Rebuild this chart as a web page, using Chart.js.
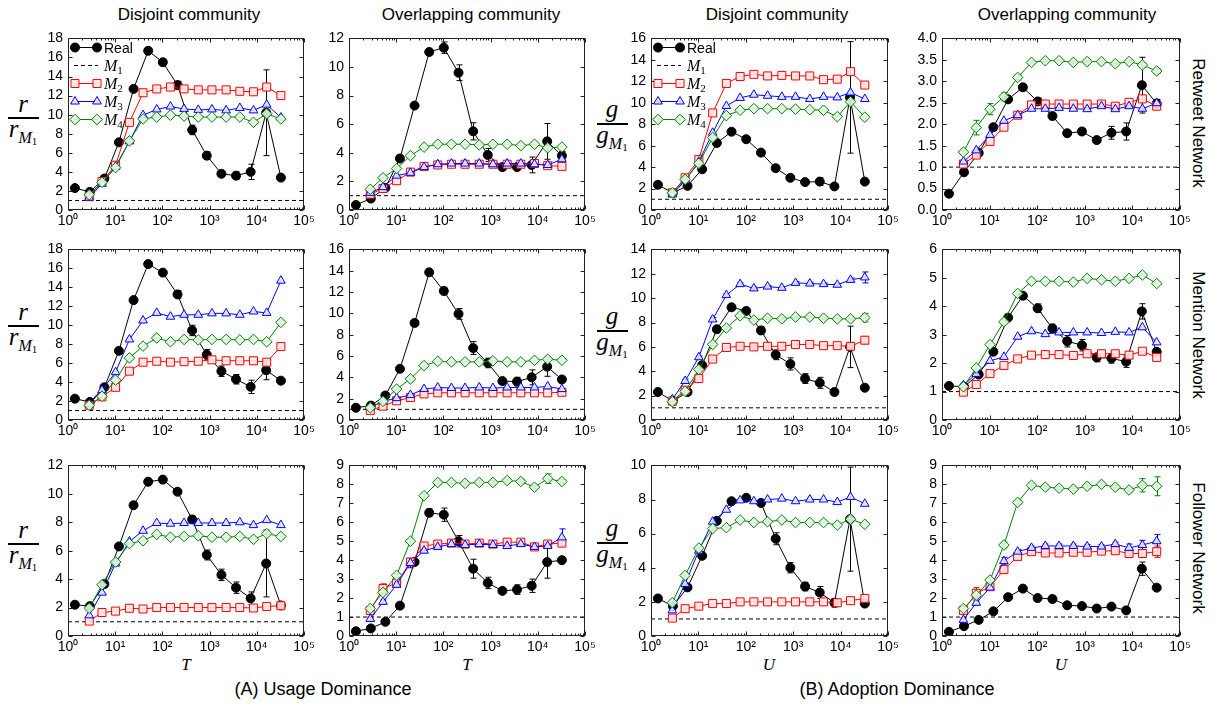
<!DOCTYPE html>
<html><head><meta charset="utf-8">
<script src="https://cdn.jsdelivr.net/npm/chart.js@4.4.0/dist/chart.umd.min.js"></script>
<style>
body{margin:0;background:#fff;}
#fig{position:relative;width:1215px;height:706px;overflow:hidden;background:#fff;font-family:'Liberation Sans',Arial,sans-serif;color:#000}
#fig div{position:absolute;white-space:nowrap}
</style></head>
<body><div id="fig"></div>
<script>
// ---------- shared x positions / ticks ----------
const realX  = [1.4, 2.9, 5.9, 12, 24.5, 50, 102, 209, 427, 871, 1780, 3630, 7410, 15800, 32400];
const modelX = [2.82, 5.25, 10.2, 20, 38.9, 75.9, 148, 288, 575, 1120, 2240, 4370, 8510, 16200, 32400];
const m1X = [1, 100000];
const m1Y = [1, 1];
const xTickVals = [1, 10, 100, 1000, 10000, 100000];
const xTickLabels = ['10\u2070','10\u00b9','10\u00b2','10\u00b3','10\u2074','10\u2075'];

// ---------- panel 1: Retweet / Usage / Disjoint ----------
const real_p1 = [2.3, 1.9, 3.3, 7.1, 12.7, 16.7, 15.5, 13.1, 8.4, 5.7, 3.8, 3.6, 4.0, 10.2, 3.4];
const realErr_p1 = [0.1,0.1,0.1,0.1,0.1,0.1,0.2,0.4,0.5,0.4,0.2,0.4,0.8,4.5,0.2];
const m2_p1 = [1.4, 3.0, 4.7, 9.2, 12.3, 12.7, 12.9, 12.7, 12.6, 12.6, 12.6, 12.45, 12.4, 12.9, 12.0];
const m3_p1 = [1.3, 2.75, 4.55, 7.2, 9.95, 10.55, 10.85, 10.6, 10.5, 10.55, 10.45, 10.7, 10.45, 11.05, 9.7];
const m4_p1 = [1.6, 2.9, 4.45, 7.25, 9.55, 9.75, 9.95, 9.85, 9.75, 9.75, 9.75, 9.75, 9.2, 10.1, 9.55];
// ---------- panel 2: Retweet / Usage / Overlapping ----------
const real_p2 = [0.35, 0.8, 1.55, 3.6, 7.3, 11.05, 11.35, 9.6, 5.5, 3.85, 3.0, 3.0, 3.15, 4.8, 3.8];
const realErr_p2 = [0.05,0.1,0.1,0.1,0.1,0.2,0.4,0.55,0.6,0.45,0.1,0.15,0.55,1.25,0.3];
const m2_p2 = [1.1, 1.5, 2.05, 2.65, 3.05, 3.15, 3.2, 3.2, 3.2, 3.2, 3.2, 3.2, 3.25, 3.1, 3.05];
const m3_p2 = [1.2, 1.6, 2.4, 2.6, 3.0, 3.2, 3.25, 3.25, 3.25, 3.2, 3.25, 3.25, 3.2, 3.15, 3.55];
const m4_p2 = [1.45, 2.25, 2.9, 3.8, 4.4, 4.6, 4.6, 4.6, 4.55, 4.6, 4.6, 4.5, 4.6, 4.35, 4.4];
// ---------- panel 3: Retweet / Adoption / Disjoint ----------
const real_p3 = [2.35, 1.6, 2.25, 3.8, 6.25, 7.3, 6.6, 5.35, 3.9, 3.0, 2.6, 2.65, 2.2, 10.5, 2.65];
const realErr_p3 = [0.1,0.1,0.1,0.15,0.15,0.1,0.1,0.1,0.1,0.1,0.1,0.35,0.15,5.2,0.1];
const m2_p3 = [1.6, 3.0, 4.7, 9.05, 11.8, 12.45, 12.65, 12.5, 12.55, 12.5, 12.5, 12.15, 12.2, 12.9, 11.65];
const m3_p3 = [1.45, 2.75, 4.5, 7.2, 9.7, 10.45, 10.75, 10.65, 10.55, 10.55, 10.35, 10.55, 10.5, 10.95, 10.35];
const m4_p3 = [1.6, 2.85, 4.35, 6.75, 8.8, 9.3, 9.45, 9.45, 9.45, 9.4, 9.35, 9.3, 8.7, 10.1, 8.65];
// ---------- panel 4: Retweet / Adoption / Overlapping ----------
const real_p4 = [0.38, 0.88, 1.33, 1.93, 2.58, 2.86, 2.53, 2.19, 1.79, 1.83, 1.63, 1.8, 1.83, 2.91, 2.48];
const realErr_p4 = [0.02,0.03,0.04,0.05,0.05,0.06,0.08,0.05,0.04,0.06,0.06,0.15,0.2,0.65,0.1];
const m2_p4 = [1.07, 1.28, 1.6, 1.93, 2.21, 2.45, 2.47, 2.47, 2.47, 2.47, 2.47, 2.42, 2.51, 2.59, 2.42];
const m3_p4 = [1.13, 1.39, 1.75, 2.08, 2.21, 2.36, 2.36, 2.38, 2.36, 2.35, 2.42, 2.35, 2.42, 2.36, 2.49];
const m4_p4 = [1.35, 1.92, 2.35, 2.64, 3.09, 3.44, 3.48, 3.48, 3.44, 3.46, 3.46, 3.41, 3.46, 3.38, 3.24];
const m4Err_p4 = [0.04, 0.17, 0.13, 0.1, 0.06, 0.03, 0.03, 0.03, 0.03, 0.03, 0.03, 0.03, 0.03, 0.05, 0.06];
// ---------- panel 5: Mention / Usage / Disjoint ----------
const real_p5 = [2.25, 1.9, 3.45, 7.3, 12.65, 16.45, 15.55, 13.25, 9.45, 6.9, 5.15, 4.3, 3.5, 5.25, 4.15];
const realErr_p5 = [0.1,0.1,0.1,0.1,0.1,0.1,0.2,0.4,0.55,0.55,0.55,0.5,0.7,1.0,0.15];
const m2_p5 = [1.55, 2.45, 3.45, 5.15, 6.1, 6.2, 6.1, 6.15, 6.2, 6.35, 6.25, 6.25, 6.25, 6.1, 7.75];
const m3_p5 = [1.65, 3.15, 5.05, 8.5, 10.5, 11.3, 10.9, 11.1, 11.1, 11.25, 11.25, 11.1, 11.45, 11.3, 14.7];
const m4_p5 = [1.55, 2.5, 4.2, 6.55, 7.8, 8.65, 8.25, 8.5, 8.45, 8.5, 8.5, 8.45, 8.5, 8.25, 10.3];
// ---------- panel 6: Mention / Usage / Overlapping ----------
const real_p6 = [1.15, 1.35, 2.3, 4.8, 9.1, 13.85, 12.1, 9.95, 6.75, 5.35, 3.65, 3.6, 4.0, 5.0, 3.8];
const realErr_p6 = [0.05,0.1,0.1,0.1,0.1,0.1,0.35,0.5,0.6,0.45,0.15,0.4,0.7,0.9,0.2];
const m2_p6 = [0.9, 1.3, 1.8, 2.1, 2.45, 2.55, 2.55, 2.55, 2.55, 2.55, 2.55, 2.55, 2.55, 2.55, 2.6];
const m3_p6 = [1.2, 1.75, 2.05, 2.35, 2.9, 3.05, 3.0, 3.0, 3.05, 3.0, 3.05, 3.05, 3.05, 3.15, 2.9];
const m4_p6 = [1.15, 1.75, 2.9, 3.85, 5.1, 5.5, 5.45, 5.45, 5.45, 5.55, 5.45, 5.45, 5.6, 5.7, 5.6];
// ---------- panel 7: Mention / Adoption / Disjoint ----------
const real_p7 = [2.3, 1.55, 2.3, 4.5, 7.45, 9.25, 8.95, 7.35, 5.35, 4.6, 3.4, 3.05, 2.3, 6.0, 2.65];
const realErr_p7 = [0.1,0.1,0.1,0.1,0.1,0.1,0.25,0.3,0.4,0.5,0.4,0.45,0.2,1.7,0.1];
const m2_p7 = [1.55, 2.45, 3.4, 5.0, 5.95, 6.05, 6.0, 6.05, 6.05, 6.2, 6.2, 6.1, 6.1, 6.05, 6.55];
const m3_p7 = [1.7, 3.2, 5.15, 8.25, 10.25, 11.15, 10.8, 10.95, 10.85, 11.25, 11.2, 11.15, 11.1, 11.5, 11.7];
const m4_p7 = [1.5, 2.35, 4.15, 6.2, 7.55, 8.55, 8.2, 8.35, 8.3, 8.45, 8.45, 8.35, 8.3, 8.3, 8.4];
const m2Err_p7 = [0.05,0.1,0.1,0.1,0.1,0.1,0.1,0.1,0.1,0.1,0.1,0.1,0.1,0.1,0.3];
const m3Err_p7 = [0.05,0.15,0.1,0.15,0.1,0.1,0.1,0.1,0.1,0.1,0.1,0.1,0.1,0.15,0.45];
const m4Err_p7 = [0.05,0.1,0.1,0.1,0.1,0.1,0.1,0.1,0.1,0.1,0.1,0.1,0.1,0.1,0.35];
// ---------- panel 8: Mention / Adoption / Overlapping ----------
const real_p8 = [1.2, 1.17, 1.6, 2.4, 3.6, 4.37, 3.93, 3.22, 2.77, 2.63, 2.2, 2.17, 2.05, 3.82, 2.4];
const realErr_p8 = [0.03,0.03,0.05,0.05,0.05,0.08,0.15,0.15,0.2,0.2,0.15,0.17,0.2,0.27,0.1];
const m2_p8 = [0.98, 1.25, 1.63, 1.92, 2.15, 2.28, 2.3, 2.3, 2.27, 2.33, 2.33, 2.33, 2.28, 2.42, 2.2];
const m3_p8 = [1.22, 1.62, 2.08, 2.22, 2.93, 3.12, 3.02, 3.08, 3.08, 3.08, 3.06, 3.1, 3.08, 3.26, 2.73];
const m4_p8 = [1.17, 1.83, 2.65, 3.45, 4.45, 4.88, 4.88, 4.88, 4.85, 4.98, 4.93, 4.88, 4.98, 5.1, 4.8];
// ---------- panel 9: Follower / Usage / Disjoint ----------
const real_p9 = [2.2, 2.1, 3.65, 6.3, 9.2, 10.85, 11.0, 10.15, 8.2, 5.7, 4.3, 3.4, 2.65, 5.1, 2.15];
const realErr_p9 = [0.05,0.05,0.1,0.1,0.1,0.1,0.1,0.15,0.25,0.35,0.4,0.4,0.45,2.35,0.1];
const m2_p9 = [1.05, 1.65, 1.75, 1.95, 1.9, 2.0, 2.0, 2.0, 2.0, 2.0, 2.0, 2.0, 1.97, 2.08, 2.13];
const m3_p9 = [1.45, 3.05, 5.1, 6.65, 7.4, 7.95, 7.9, 7.95, 7.95, 7.95, 7.95, 8.0, 7.8, 8.15, 7.8];
const m4_p9 = [1.95, 3.6, 5.2, 6.5, 6.7, 7.15, 6.95, 7.0, 7.05, 6.95, 6.95, 7.0, 6.8, 7.2, 7.0];
// ---------- panel 10: Follower / Usage / Overlapping ----------
const real_p10 = [0.25, 0.4, 0.75, 1.6, 3.9, 6.5, 6.4, 5.0, 3.55, 2.8, 2.38, 2.45, 2.65, 3.9, 4.0];
const realErr_p10 = [0.02,0.03,0.05,0.08,0.1,0.2,0.35,0.3,0.5,0.3,0.1,0.25,0.35,0.85,0.1];
const m2_p10 = [1.35, 2.5, 2.8, 3.9, 4.75, 4.85, 4.9, 4.85, 4.9, 4.85, 4.95, 4.95, 4.7, 4.85, 4.9];
const m3_p10 = [0.9, 1.8, 2.7, 3.85, 4.5, 4.7, 4.85, 4.8, 4.85, 4.8, 4.75, 4.85, 4.7, 4.75, 5.2];
const m4_p10 = [1.45, 2.3, 3.2, 5.0, 7.4, 8.1, 8.1, 8.05, 8.1, 8.1, 8.2, 8.15, 7.85, 8.3, 8.15];
const m2Err_p10 = [0.1,0.25,0.1,0.1,0.1,0.1,0.1,0.1,0.1,0.1,0.1,0.1,0.1,0.1,0.1];
const m3Err_p10 = [0.1,0.1,0.1,0.25,0.1,0.1,0.1,0.1,0.1,0.1,0.1,0.1,0.1,0.1,0.45];
const m4Err_p10 = [0.1,0.1,0.1,0.1,0.1,0.1,0.1,0.1,0.1,0.1,0.1,0.1,0.1,0.25,0.1];
// ---------- panel 11: Follower / Adoption / Disjoint ----------
const real_p11 = [2.2, 1.75, 2.85, 4.7, 6.75, 7.9, 8.1, 7.8, 5.7, 4.0, 2.9, 2.55, 1.95, 6.85, 1.9];
const realErr_p11 = [0.05,0.05,0.1,0.1,0.1,0.1,0.1,0.2,0.35,0.3,0.25,0.35,0.25,3.05,0.1];
const m2_p11 = [1.05, 1.6, 1.75, 1.9, 1.9, 2.0, 2.0, 2.0, 2.0, 2.0, 2.0, 2.0, 1.95, 2.07, 2.2];
const m3_p11 = [1.5, 3.05, 5.0, 6.7, 7.4, 7.95, 7.9, 8.0, 8.05, 7.9, 8.0, 8.0, 7.85, 8.15, 7.75];
const m4_p11 = [1.95, 3.55, 5.15, 6.3, 6.35, 6.8, 6.65, 6.7, 6.8, 6.65, 6.65, 6.65, 6.5, 6.85, 6.55];
// ---------- panel 12: Follower / Adoption / Overlapping ----------
const real_p12 = [0.22, 0.52, 0.85, 1.3, 2.05, 2.5, 2.0, 1.95, 1.62, 1.58, 1.45, 1.55, 1.35, 3.55, 2.55];
const realErr_p12 = [0.02,0.03,0.04,0.05,0.05,0.06,0.05,0.05,0.05,0.05,0.05,0.05,0.06,0.35,0.08];
const m2_p12 = [1.35, 2.25, 2.6, 3.5, 4.2, 4.45, 4.38, 4.38, 4.42, 4.42, 4.48, 4.5, 4.35, 4.35, 4.45];
const m3_p12 = [0.85, 1.75, 2.55, 3.95, 4.45, 4.65, 4.75, 4.75, 4.75, 4.72, 4.72, 4.85, 4.65, 4.8, 5.0];
const m4_p12 = [1.45, 2.15, 2.95, 4.8, 7.05, 7.95, 7.85, 7.8, 7.75, 7.9, 8.0, 7.85, 7.7, 7.95, 7.9];
const m2Err_p12 = [0.1,0.3,0.1,0.15,0.1,0.1,0.1,0.1,0.1,0.1,0.1,0.1,0.1,0.2,0.3];
const m3Err_p12 = [0.1,0.1,0.1,0.2,0.1,0.1,0.1,0.1,0.1,0.1,0.1,0.1,0.2,0.25,0.35];
const m4Err_p12 = [0.1,0.1,0.1,0.15,0.1,0.1,0.1,0.1,0.1,0.1,0.1,0.1,0.1,0.35,0.5];

// y axis ranges per panel
const yMaxes = [18, 12, 16, 4, 18, 16, 14, 6, 12, 9, 10, 9];
const ySteps = [2, 2, 2, 0.5, 2, 2, 2, 1, 2, 1, 2, 1];

// tables built from the arrays above
const reals = [real_p1,real_p2,real_p3,real_p4,real_p5,real_p6,real_p7,real_p8,real_p9,real_p10,real_p11,real_p12];
const realErrs = [realErr_p1,realErr_p2,realErr_p3,realErr_p4,realErr_p5,realErr_p6,realErr_p7,realErr_p8,realErr_p9,realErr_p10,realErr_p11,realErr_p12];
const m2s = [m2_p1,m2_p2,m2_p3,m2_p4,m2_p5,m2_p6,m2_p7,m2_p8,m2_p9,m2_p10,m2_p11,m2_p12];
const m3s = [m3_p1,m3_p2,m3_p3,m3_p4,m3_p5,m3_p6,m3_p7,m3_p8,m3_p9,m3_p10,m3_p11,m3_p12];
const m4s = [m4_p1,m4_p2,m4_p3,m4_p4,m4_p5,m4_p6,m4_p7,m4_p8,m4_p9,m4_p10,m4_p11,m4_p12];
const m2Errs = [null,null,null,null,null,null,m2Err_p7,null,null,m2Err_p10,null,m2Err_p12];
const m3Errs = [null,null,null,null,null,null,m3Err_p7,null,null,m3Err_p10,null,m3Err_p12];
const m4Errs = [null,null,null,m4Err_p4,null,null,m4Err_p7,null,null,m4Err_p10,null,m4Err_p12];

const colTitles = ['Disjoint community','Overlapping community','Disjoint community','Overlapping community'];
const rowTitles = ['Retweet Network','Mention Network','Follower Network'];
const legendPanels = [0, 2];

// ---------- layout ----------
const colLeft = [68, 349, 651, 942];
const colW = [236, 236, 237, 238];
const rowTop = [35, 246, 462];
const rowH = [175, 174, 174];
const fig = document.getElementById('fig');

function marker(ctx, style, x, y, r, fill, stroke){
  ctx.save();
  ctx.setLineDash([]);
  ctx.beginPath();
  if(style==='circle') ctx.arc(x,y,r,0,2*Math.PI);
  else if(style==='rect'){const s=r*Math.SQRT1_2; ctx.rect(x-s,y-s,2*s,2*s);}
  else if(style==='triangle'){
    ctx.moveTo(x, y-r);
    ctx.lineTo(x+r*Math.sin(2*Math.PI/3), y-r*Math.cos(2*Math.PI/3));
    ctx.lineTo(x+r*Math.sin(4*Math.PI/3), y-r*Math.cos(4*Math.PI/3));
    ctx.closePath();
  } else if(style==='rectRot'){
    ctx.moveTo(x,y-r); ctx.lineTo(x+r,y); ctx.lineTo(x,y+r); ctx.lineTo(x-r,y); ctx.closePath();
  }
  ctx.fillStyle=fill; ctx.fill(); ctx.strokeStyle=stroke; ctx.lineWidth=1; ctx.stroke();
  ctx.restore();
}

const decor = {
  id: 'decor',
  beforeDatasetsDraw(chart){
    const {ctx, chartArea:a, scales:{x, y}} = chart;
    ctx.save();
    ctx.beginPath(); ctx.rect(a.left, a.top-2, a.right-a.left, a.bottom-a.top+4); ctx.clip();
    chart.data.datasets.forEach(ds => {
      if(!ds.errs) return;
      ctx.strokeStyle = ds.errColor; ctx.lineWidth = 1; ctx.setLineDash([]);
      ds.data.forEach((p,i) => {
        const e = ds.errs[i]; if(!e) return;
        const px = Math.round(x.getPixelForValue(p.x)) + 0.5;
        const y1 = y.getPixelForValue(p.y - e), y2 = y.getPixelForValue(p.y + e);
        ctx.beginPath();
        ctx.moveTo(px, y1); ctx.lineTo(px, y2);
        ctx.moveTo(px-3, y1); ctx.lineTo(px+3, y1);
        ctx.moveTo(px-3, y2); ctx.lineTo(px+3, y2);
        ctx.stroke();
      });
    });
    ctx.restore();
  },
  afterDraw(chart, args, opts){
    const {ctx, chartArea:a, scales:{x, y}} = chart;
    const L = Math.round(a.left)+0.5, R = Math.round(a.right)-0.5, T = Math.round(a.top)+0.5, B = Math.round(a.bottom)-0.5;
    ctx.save();
    ctx.strokeStyle = '#222'; ctx.lineWidth = 1; ctx.setLineDash([]);
    ctx.strokeRect(L, T, R-L, B-T);
    ctx.beginPath();
    y.ticks.forEach(t => {
      const py = Math.round(y.getPixelForValue(t.value))+0.5;
      ctx.moveTo(L, py); ctx.lineTo(L+4, py);
      ctx.moveTo(R, py); ctx.lineTo(R-4, py);
    });
    for(let k=0;k<=5;k++){
      const v = Math.pow(10,k);
      const px = Math.round(x.getPixelForValue(v))+0.5;
      ctx.moveTo(px, B); ctx.lineTo(px, B-4);
      ctx.moveTo(px, T); ctx.lineTo(px, T+4);
      if(k<5) for(let m=2;m<=9;m++){
        const q = Math.round(x.getPixelForValue(m*v))+0.5;
        ctx.moveTo(q, B); ctx.lineTo(q, B-2);
        ctx.moveTo(q, T); ctx.lineTo(q, T+2);
      }
    }
    ctx.stroke();
    if(opts && opts.legend){
      const order = ['Real','M1','M2','M3','M4'];
      order.forEach((lab, k) => {
        const ds = chart.data.datasets.find(d => d.label === lab);
        const yy = Math.round(a.top + 9 + 18*k) + 0.5;
        const x0 = a.left + 7, x1 = a.left + 29;
        ctx.beginPath();
        ctx.setLineDash(ds.borderDash || []);
        ctx.strokeStyle = ds.borderColor; ctx.lineWidth = 1;
        ctx.moveTo(x0-1, yy); ctx.lineTo(x1+1, yy); ctx.stroke();
        ctx.setLineDash([]);
        if(ds.pointRadius > 0){
          marker(ctx, ds.pointStyle, x0, yy, ds.pointRadius, ds.pointBackgroundColor, ds.pointBorderColor);
          marker(ctx, ds.pointStyle, x1, yy, ds.pointRadius, ds.pointBackgroundColor, ds.pointBorderColor);
        }
        ctx.fillStyle = '#000';
        ctx.textBaseline = 'alphabetic';
        const tx = a.left + 36;
        if(lab === 'Real'){
          ctx.font = '14px "Liberation Sans"';
          ctx.fillText('Real', tx, yy + 5);
        } else {
          ctx.font = 'italic 16px "Liberation Serif"';
          ctx.fillText('M', tx, yy + 5);
          const w = ctx.measureText('M').width;
          ctx.font = '11px "Liberation Serif"';
          ctx.fillText(lab.slice(1), tx + w, yy + 8);
        }
      });
    }
    ctx.restore();
  }
};

function pts(xs, ys){ return xs.map((x,i) => ({x, y: ys[i]})); }

function makePanel(idx){
  const r = Math.floor(idx/4), c = idx%4;
  const L = colLeft[c], W = colW[c], T = rowTop[r], H = rowH[r];
  const padL = 45, padT = 10, padR = 16, padB = 24;
  const cv = document.createElement('canvas');
  cv.width = W + padL + padR; cv.height = H + padT + padB;
  cv.style.cssText = `position:absolute;left:${L-padL}px;top:${T-padT}px;width:${cv.width}px;height:${cv.height}px`;
  fig.appendChild(cv);
  const common = {borderWidth:1, pointBorderWidth:1, fill:false, tension:0, pointHoverRadius:0};
  const datasets = [
    Object.assign({label:'Real', data: pts(realX, reals[idx]), borderColor:'#000', pointBackgroundColor:'#000', pointBorderColor:'#000', pointStyle:'circle', pointRadius:4.5, order:4, errs: realErrs[idx], errColor:'#000'}, common),
    Object.assign({label:'M1', data: pts(m1X, m1Y), borderColor:'#000', borderDash:[4,3], pointRadius:0, order:3}, common),
    Object.assign({label:'M2', data: pts(modelX, m2s[idx]), borderColor:'#ff0000', pointBackgroundColor:'rgba(255,232,232,0.9)', pointBorderColor:'#ff0000', pointStyle:'rect', pointRadius:5.66, order:2, errs: m2Errs[idx], errColor:'#ff0000'}, common),
    Object.assign({label:'M3', data: pts(modelX, m3s[idx]), borderColor:'#0000ff', pointBackgroundColor:'rgba(232,232,255,0.9)', pointBorderColor:'#0000ff', pointStyle:'triangle', pointRadius:5, order:1, errs: m3Errs[idx], errColor:'#0000ff'}, common),
    Object.assign({label:'M4', data: pts(modelX, m4s[idx]), borderColor:'#008000', pointBackgroundColor:'rgba(228,245,228,0.9)', pointBorderColor:'#008000', pointStyle:'rectRot', pointRadius:5.3, order:0, errs: m4Errs[idx], errColor:'#008000'}, common)
  ];
  const tickFont = {family:'Liberation Sans', size:14};
  new Chart(cv, {
    type:'line',
    data:{datasets},
    plugins:[decor],
    options:{
      responsive:false, animation:false, devicePixelRatio:1,
      events:[],
      layout:{padding:{left:0, top:padT, right:padR, bottom:0}},
      plugins:{legend:{display:false}, tooltip:{enabled:false}, decor:{legend: legendPanels.includes(idx)}},
      scales:{
        x:{type:'logarithmic', min:1, max:100000,
           afterBuildTicks: s => { s.ticks = xTickVals.map(v => ({value:v})); },
           afterFit: s => { s.height = padB; },
           grid:{display:false, drawTicks:false}, border:{display:false},
           ticks:{callback: v => xTickLabels[xTickVals.indexOf(v)], font:tickFont, color:'#000', padding:3, maxRotation:0, autoSkip:false}},
        y:{type:'linear', min:0, max:yMaxes[idx],
           afterFit: s => { s.width = padL; },
           grid:{display:false, drawTicks:false}, border:{display:false},
           ticks:{stepSize: ySteps[idx], autoSkip:false, callback: v => ySteps[idx] < 1 ? Number(v).toFixed(1) : String(v), font:tickFont, color:'#000', padding:5}}
      }
    }
  });
}

function addDiv(html, css){ const d = document.createElement('div'); d.innerHTML = html; d.style.cssText += css; fig.appendChild(d); return d; }

// column titles
const colTitleX = [189, 471, 777, 1067];
colTitles.forEach((t,i) => addDiv(t, `left:${colTitleX[i]}px;top:6px;font-size:17px;line-height:17px;transform:translateX(-50%);`));
// row titles (right side, rotated)
const rowTitleY = [123, 335, 548];
rowTitles.forEach((t,i) => addDiv(t, `left:1198px;top:${rowTitleY[i]}px;font-size:17px;line-height:17px;transform:translate(-50%,-50%) rotate(90deg);`));
// bottom captions
addDiv('(A) Usage Dominance', 'left:323px;top:680px;font-size:18px;line-height:18px;transform:translateX(-50%);');
addDiv('(B) Adoption Dominance', 'left:897px;top:680px;font-size:18px;line-height:18px;transform:translateX(-50%);');
// x axis titles on bottom row
const xTitles = ['T','T','U','U'];
const xTitleX = [186, 467, 769, 1061];
xTitles.forEach((t,i) => addDiv(t, `left:${xTitleX[i]}px;top:656px;font:italic 17px/17px 'Liberation Serif';transform:translateX(-50%);`));
// y axis fraction titles
function frac(letter, cx, by, numOff, denOff){
  addDiv('', `left:${cx-15}px;top:${by-1}px;width:31px;height:2px;background:#000;`);
  addDiv(letter, `left:${cx-20}px;width:40px;text-align:center;top:${by+numOff}px;font:italic 25px/25px 'Liberation Serif';`);
  addDiv(`${letter}<span style="font-size:16px;position:relative;top:6px">M<span style="font-size:11px;font-style:normal;position:relative;top:2px">1</span></span>`,
    `left:${cx-25}px;width:50px;text-align:center;top:${by+denOff}px;font:italic 25px/25px 'Liberation Serif';`);
}
const fracBarR = [118, 326, 544];
const fracBarG = [124, 331, 543];
for(let r=0;r<3;r++){
  frac('r', 23, fracBarR[r], -27, -2);
  frac('g', 612, fracBarG[r], -28, -2);
}

for(let i=0;i<12;i++) makePanel(i);
</script></body></html>
